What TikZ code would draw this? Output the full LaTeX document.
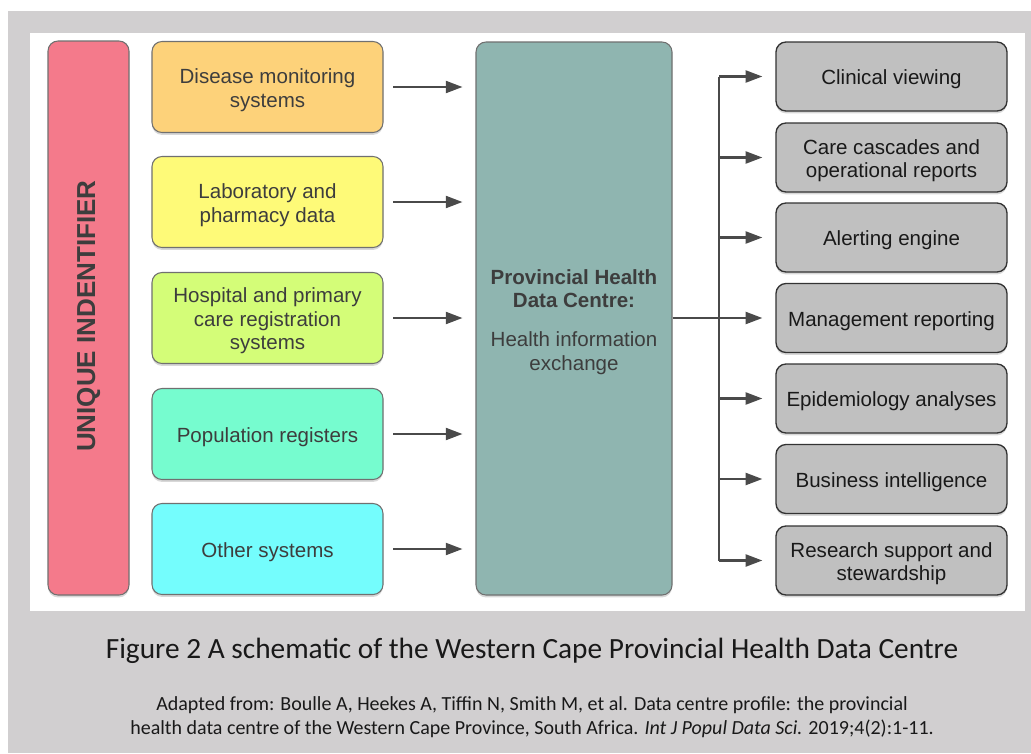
\documentclass[tikz,border=0pt]{standalone}
\usepackage{fontspec}
\setmainfont{Liberation Sans}
\newfontfamily\capfont{Carlito}
\usetikzlibrary{arrows.meta,shadows}
\definecolor{bggray}{HTML}{D1CFD0}
\definecolor{pinkbar}{HTML}{F47A8B}
\definecolor{cA}{HTML}{FDD27A}
\definecolor{cB}{HTML}{FEFA78}
\definecolor{cC}{HTML}{D4FD78}
\definecolor{cD}{HTML}{76FCCF}
\definecolor{cE}{HTML}{74FDFD}
\definecolor{hubcol}{HTML}{8FB5B0}
\definecolor{outcol}{HTML}{C0C0C0}
\definecolor{txtgray}{HTML}{3D3D3D}
\definecolor{arrgray}{HTML}{4A4A4A}
\definecolor{bordgray}{HTML}{707070}
\tikzset{
  boxfont/.style={font=\fontsize{15.4}{17.6}\selectfont},
  shad/.style={drop shadow={shadow xshift=0pt,shadow yshift=-1.8pt,opacity=0.3}},
  inbox/.style={shad, draw=bordgray, line width=0.8pt, rounded corners=7.5pt,
    minimum width=231*0.75pt, minimum height=91*0.75pt},
  outbox/.style={shad, draw=black!80, line width=1pt, rounded corners=7.5pt, fill=outcol,
    minimum width=231*0.75pt, minimum height=69*0.75pt},
  intext/.style={boxfont, align=center, text=txtgray, yshift=-2.3pt},
  outtext/.style={boxfont, align=center, text=black!90, yshift=-2.3pt},
  arr/.style={draw=arrgray, line width=1.6pt, -{Triangle[length=12.5pt,width=9pt]}},
  trunk/.style={draw=arrgray, line width=1.6pt}
}
\begin{document}
\begin{tikzpicture}[x=0.75pt,y=-0.75pt]
\useasboundingbox (0,0) rectangle (1031,753);
\fill[white] (0,0) rectangle (1031,753);
\fill[bggray] (8,11) rectangle (1031,753);
\fill[white] (30,33) rectangle (1025,611);

% unique identifier bar
\node[shad, fill=pinkbar, draw=bordgray, line width=0.8pt, rounded corners=7.5pt,
  minimum width=81*0.75pt, minimum height=554*0.75pt] (uid) at (88.5,318) {};
\node[rotate=90, font=\bfseries\fontsize{19.5}{22}\selectfont, text=txtgray] (uidt) at (88.5,316) {UNIQUE INDENTIFIER};

% input boxes
\node[inbox, fill=cA] (in1) at (267.5,87) {};
\node[inbox, fill=cB] (in2) at (267.5,202) {};
\node[inbox, fill=cC] (in3) at (267.5,318) {};
\node[inbox, fill=cD] (in4) at (267.5,434) {};
\node[inbox, fill=cE] (in5) at (267.5,549) {};
\node[intext] (in1t) at (in1) {Disease monitoring\\systems};
\node[intext] (in2t) at (in2) {Laboratory and\\pharmacy data};
\node[intext] (in3t) at (in3) {Hospital and primary\\care registration\\systems};
\node[intext] (in4t) at (in4) {Population registers};
\node[intext] (in5t) at (in5) {Other systems};

% hub
\node[shad, fill=hubcol, draw=bordgray, line width=0.8pt, rounded corners=7.5pt,
  minimum width=196*0.75pt, minimum height=553*0.75pt] (hub) at (574,318.5) {};
\node[boxfont, align=center, text=txtgray] (hubt) at (574,322)
  {\textbf{Provincial Health}\\\textbf{Data Centre:}\\[11.5pt]Health information\\exchange};

% output boxes
\node[outbox] (out1) at (891.5,76.5) {};
\node[outbox] (out2) at (891.5,157.5) {};
\node[outbox] (out3) at (891.5,237.5) {};
\node[outbox] (out4) at (891.5,318) {};
\node[outbox] (out5) at (891.5,398.5) {};
\node[outbox] (out6) at (891.5,479) {};
\node[outbox] (out7) at (891.5,560.5) {};
\node[outtext] (out1t) at (out1) {Clinical viewing};
\node[outtext] (out2t) at (out2) {Care cascades and\\operational reports};
\node[outtext] (out3t) at (out3) {Alerting engine};
\node[outtext] (out4t) at (out4) {Management reporting};
\node[outtext] (out5t) at (out5) {Epidemiology analyses};
\node[outtext] (out6t) at (out6) {Business intelligence};
\node[outtext] (out7t) at (out7) {Research support and\\stewardship};

% input arrows
\foreach \i in {1,...,5}{
  \draw[arr] ([xshift=9.5*0.75pt]in\i.east) -- ([xshift=-13*0.75pt]in\i.east -| hub.west);
}
% output arrows
\coordinate (ttop) at (719,76.5);
\coordinate (tbot) at (719,560.5);
\draw[trunk] (ttop) -- (tbot);
\draw[arr] (hub.east |- out4.west) -- ([xshift=-13*0.75pt]out4.west);
\foreach \i in {1,2,3,5,6,7}{
  \draw[arr] (ttop |- out\i.west) -- ([xshift=-13*0.75pt]out\i.west);
}

% caption
\node[font=\capfont\fontsize{22}{26}\selectfont, text=black!90] (cap) at (532,651)
  {Figure 2 A schematic of the Western Cape Provincial Health Data Centre};
\node[font=\capfont\fontsize{15}{18}\selectfont, align=center, text=black!90] (cite) at (532,717)
  {Adapted from: Boulle A, Heekes A, Tiffin N, Smith M, et al. Data centre profile: the provincial\\
   health data centre of the Western Cape Province, South Africa. \textit{Int J Popul Data Sci.} 2019;4(2):1-11.};
\end{tikzpicture}
\end{document}
